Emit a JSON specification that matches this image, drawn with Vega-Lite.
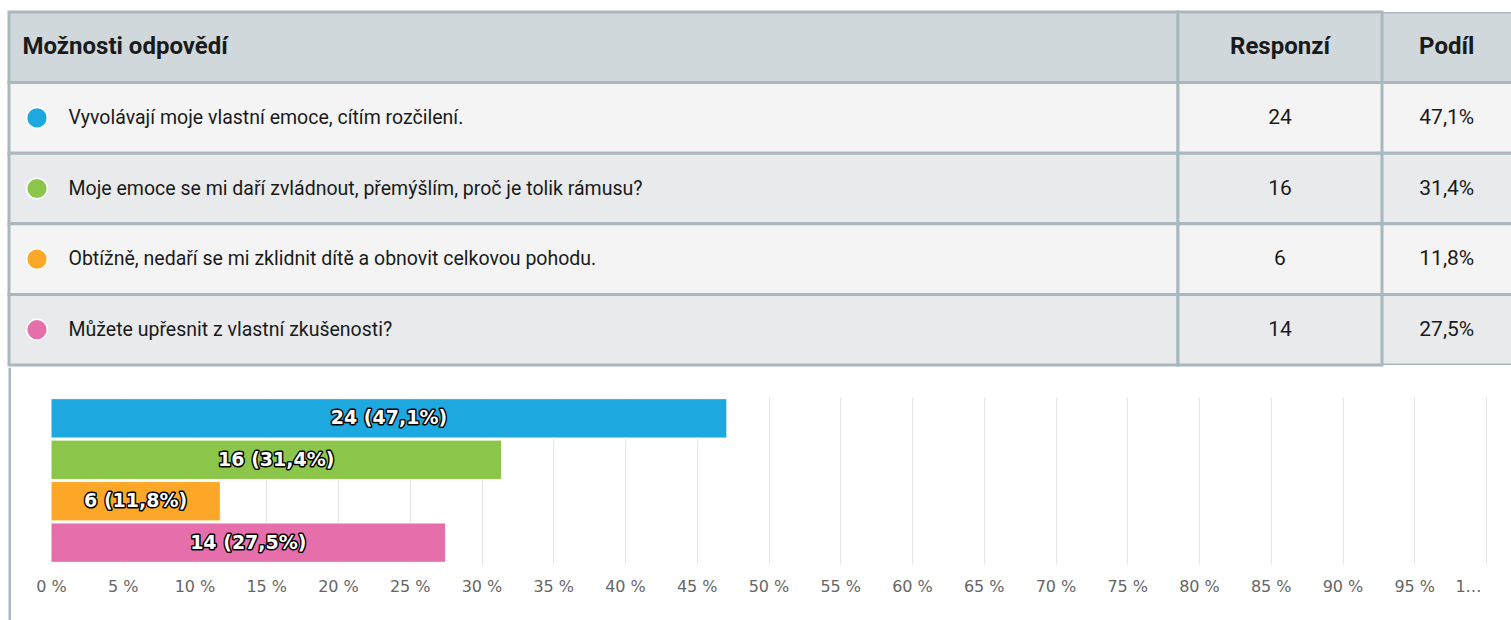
{
  "$schema": "https://vega.github.io/schema/vega-lite/v6.json",
  "background": "white",
  "padding": {"left": 7, "top": 10, "right": 0, "bottom": 0},
  "spacing": 0,
  "config": {
    "view": {"stroke": null},
    "locale": {"number": {"decimal": ",", "thousands": " ", "grouping": [3], "currency": ["", " Kč"]}}
  },
  "datasets": {
    "hlavicka": [
      {"sloupec": "odpoved", "nazev": "Možnosti odpovědí"},
      {"sloupec": "responzi", "nazev": "Responzí"},
      {"sloupec": "podil", "nazev": "Podíl"}
    ],
    "odpovedi": [
      {"poradi": 1, "odpoved": "Vyvolávají moje vlastní emoce, cítím rozčilení.", "responzi": 24, "podil": 0.471},
      {"poradi": 2, "odpoved": "Moje emoce se mi daří zvládnout, přemýšlím, proč je tolik rámusu?", "responzi": 16, "podil": 0.314},
      {"poradi": 3, "odpoved": "Obtížně, nedaří se mi zklidnit dítě a obnovit celkovou pohodu.", "responzi": 6, "podil": 0.118},
      {"poradi": 4, "odpoved": "Můžete upřesnit z vlastní zkušenosti?", "responzi": 14, "podil": 0.275}
    ]
  },
  "vconcat": [
    {
      "spacing": 0,
      "bounds": "flush",
      "hconcat": [
        {
          "width": 1169, "height": 353,
          "layer": [
            {
              "data": {"name": "hlavicka"},
              "transform": [{"filter": "datum.sloupec == 'odpoved'"}],
              "mark": {"type": "rect", "fill": "#d0d8dc", "stroke": "#a9b8be", "strokeWidth": 3},
              "encoding": {"y": {"field": "nazev", "type": "nominal", "axis": null,
                                 "scale": {"domain": ["Možnosti odpovědí", "Vyvolávají moje vlastní emoce, cítím rozčilení.", "Moje emoce se mi daří zvládnout, přemýšlím, proč je tolik rámusu?", "Obtížně, nedaří se mi zklidnit dítě a obnovit celkovou pohodu.", "Můžete upřesnit z vlastní zkušenosti?"], "paddingInner": 0, "paddingOuter": 0}}}
            },
            {
              "data": {"name": "hlavicka"},
              "transform": [{"filter": "datum.sloupec == 'odpoved'"}],
              "mark": {"type": "text", "align": "left", "baseline": "middle", "font": "Roboto", "fontWeight": "bold", "fontSize": 24, "fill": "#1a1a1a"},
              "encoding": {"y": {"field": "nazev", "type": "nominal", "axis": null}, "x": {"value": 13.5}, "text": {"field": "nazev"}}
            },
            {
              "data": {"name": "odpovedi"},
              "mark": {"type": "rect", "stroke": "#a9b8be", "strokeWidth": 3},
              "encoding": {"y": {"field": "odpoved", "type": "nominal", "axis": null},
                           "fill": {"condition": {"test": "datum.poradi % 2 == 1", "value": "#f4f4f4"}, "value": "#e8eaeb"}}
            },
            {
              "data": {"name": "odpovedi"},
              "mark": {"type": "point", "shape": "circle", "filled": true, "size": 430, "stroke": "white", "strokeWidth": 1.5, "opacity": 1},
              "encoding": {"y": {"field": "odpoved", "type": "nominal", "axis": null},
                           "x": {"value": 28},
                           "color": {"field": "odpoved", "type": "nominal", "sort": null, "legend": null,
                                     "scale": {"domain": ["Vyvolávají moje vlastní emoce, cítím rozčilení.", "Moje emoce se mi daří zvládnout, přemýšlím, proč je tolik rámusu?", "Obtížně, nedaří se mi zklidnit dítě a obnovit celkovou pohodu.", "Můžete upřesnit z vlastní zkušenosti?"],
                                               "range": ["#1ea8e0", "#8bc64a", "#fca727", "#e66fab"]}}}
            },
            {
              "data": {"name": "odpovedi"},
              "mark": {"type": "text", "align": "left", "baseline": "middle", "font": "Roboto", "fontSize": 19.5, "fill": "#1a1a1a"},
              "encoding": {"y": {"field": "odpoved", "type": "nominal", "axis": null}, "x": {"value": 59.5}, "text": {"field": "odpoved"}}
            }
          ]
        },
        {
          "width": 204, "height": 353,
          "layer": [
            {
              "data": {"name": "hlavicka"},
              "transform": [{"filter": "datum.sloupec == 'responzi'"}],
              "mark": {"type": "rect", "fill": "#d0d8dc", "stroke": "#a9b8be", "strokeWidth": 3},
              "encoding": {"y": {"field": "nazev", "type": "nominal", "axis": null,
                                 "scale": {"domain": ["Responzí", "Vyvolávají moje vlastní emoce, cítím rozčilení.", "Moje emoce se mi daří zvládnout, přemýšlím, proč je tolik rámusu?", "Obtížně, nedaří se mi zklidnit dítě a obnovit celkovou pohodu.", "Můžete upřesnit z vlastní zkušenosti?"], "paddingInner": 0, "paddingOuter": 0}}}
            },
            {
              "data": {"name": "hlavicka"},
              "transform": [{"filter": "datum.sloupec == 'responzi'"}],
              "mark": {"type": "text", "align": "center", "baseline": "middle", "font": "Roboto", "fontWeight": "bold", "fontSize": 24, "fill": "#1a1a1a"},
              "encoding": {"y": {"field": "nazev", "type": "nominal", "axis": null}, "text": {"field": "nazev"}}
            },
            {
              "data": {"name": "odpovedi"},
              "mark": {"type": "rect", "stroke": "#a9b8be", "strokeWidth": 3},
              "encoding": {"y": {"field": "odpoved", "type": "nominal", "axis": null},
                           "fill": {"condition": {"test": "datum.poradi % 2 == 1", "value": "#f4f4f4"}, "value": "#e8eaeb"}}
            },
            {
              "data": {"name": "odpovedi"},
              "mark": {"type": "text", "align": "center", "baseline": "middle", "font": "Roboto", "fontSize": 21, "fill": "#1a1a1a"},
              "encoding": {"y": {"field": "odpoved", "type": "nominal", "axis": null}, "text": {"field": "responzi", "type": "quantitative"}}
            }
          ]
        },
        {
          "width": 129.5, "height": 353,
          "layer": [
            {
              "data": {"name": "hlavicka"},
              "transform": [{"filter": "datum.sloupec == 'podil'"}],
              "mark": {"type": "rect", "fill": "#d0d8dc", "stroke": "#a9b8be", "strokeWidth": 3, "clip": true, "xOffset": 4},
              "encoding": {"y": {"field": "nazev", "type": "nominal", "axis": null,
                                 "scale": {"domain": ["Podíl", "Vyvolávají moje vlastní emoce, cítím rozčilení.", "Moje emoce se mi daří zvládnout, přemýšlím, proč je tolik rámusu?", "Obtížně, nedaří se mi zklidnit dítě a obnovit celkovou pohodu.", "Můžete upřesnit z vlastní zkušenosti?"], "paddingInner": 0, "paddingOuter": 0}}}
            },
            {
              "data": {"name": "hlavicka"},
              "transform": [{"filter": "datum.sloupec == 'podil'"}],
              "mark": {"type": "text", "align": "center", "baseline": "middle", "font": "Roboto", "fontWeight": "bold", "fontSize": 24, "fill": "#1a1a1a"},
              "encoding": {"y": {"field": "nazev", "type": "nominal", "axis": null}, "text": {"field": "nazev"}}
            },
            {
              "data": {"name": "odpovedi"},
              "mark": {"type": "rect", "stroke": "#a9b8be", "strokeWidth": 3, "clip": true, "xOffset": 4},
              "encoding": {"y": {"field": "odpoved", "type": "nominal", "axis": null},
                           "fill": {"condition": {"test": "datum.poradi % 2 == 1", "value": "#f4f4f4"}, "value": "#e8eaeb"}}
            },
            {
              "data": {"name": "odpovedi"},
              "mark": {"type": "text", "align": "center", "baseline": "middle", "font": "Roboto", "fontSize": 21, "fill": "#1a1a1a"},
              "encoding": {"y": {"field": "odpoved", "type": "nominal", "axis": null}, "text": {"field": "podil", "type": "quantitative", "format": ".1%"}}
            }
          ]
        }
      ]
    },
    {
      "spacing": 0,
      "bounds": "flush",
      "hconcat": [
        {
          "width": 1.5, "height": 225,
          "data": {"name": "hlavicka"},
          "transform": [{"filter": "datum.sloupec == 'odpoved'"}],
          "mark": {"type": "rect", "fill": "#a9b8be", "stroke": "#a9b8be", "strokeWidth": 1, "x2Offset": -1.5, "yOffset": -29},
          "encoding": {}
        },
        {
          "width": 1501, "height": 167,
          "data": {"name": "odpovedi"},
          "transform": [
            {"calculate": "datum.responzi + ' (' + format(datum.podil, '.1%') + ')'", "as": "popisek"},
            {"calculate": "datum.podil / 2", "as": "stred"}
          ],
          "encoding": {
            "y": {"field": "odpoved", "type": "nominal", "sort": null, "axis": null,
                  "scale": {"paddingInner": 0.05, "paddingOuter": 0.04}}
          },
          "layer": [
            {
              "mark": {"type": "bar", "stroke": "white", "strokeWidth": 1, "orient": "horizontal"},
              "encoding": {
                "x": {"field": "podil", "type": "quantitative",
                      "scale": {"domain": [0, 1], "range": [40, 1475], "nice": false, "zero": true},
                      "axis": {"values": [0, 0.05, 0.1, 0.15, 0.2, 0.25, 0.3, 0.35, 0.4, 0.45, 0.5, 0.55, 0.6, 0.65, 0.7, 0.75, 0.8, 0.85, 0.9, 0.95, 1],
                               "labelExpr": "datum.value > 0.99 ? '1…' : replace(format(datum.value, '.0%'), '%', ' %')",
                               "grid": true, "gridColor": "#e6e6e6", "gridWidth": 1,
                               "domain": false, "ticks": false, "labelPadding": 14,
                               "labelFont": "DejaVu Sans", "labelFontSize": 16, "labelColor": "#666666",
                               "labelFlush": false, "labelOverlap": false, "title": null, "zindex": 0,
                               "labelOffset": {"condition": {"test": "datum.value > 0.99", "value": -18}, "value": 0}}},
                "color": {"field": "odpoved", "type": "nominal", "sort": null, "legend": null,
                          "scale": {"domain": ["Vyvolávají moje vlastní emoce, cítím rozčilení.", "Moje emoce se mi daří zvládnout, přemýšlím, proč je tolik rámusu?", "Obtížně, nedaří se mi zklidnit dítě a obnovit celkovou pohodu.", "Můžete upřesnit z vlastní zkušenosti?"],
                                    "range": ["#1ea8e0", "#8bc64a", "#fca727", "#e66fab"]}}
              }
            },
            {
              "mark": {"type": "text", "align": "center", "baseline": "middle", "font": "DejaVu Sans", "fontWeight": "bold", "fontSize": 19, "fill": "#000000", "stroke": "#000000", "strokeWidth": 3, "strokeJoin": "round"},
              "encoding": {"x": {"field": "stred", "type": "quantitative"}, "text": {"field": "popisek"}}
            },
            {
              "mark": {"type": "text", "align": "center", "baseline": "middle", "font": "DejaVu Sans", "fontWeight": "bold", "fontSize": 19, "fill": "#ffffff"},
              "encoding": {"x": {"field": "stred", "type": "quantitative"}, "text": {"field": "popisek"}}
            }
          ]
        }
      ]
    }
  ]
}
